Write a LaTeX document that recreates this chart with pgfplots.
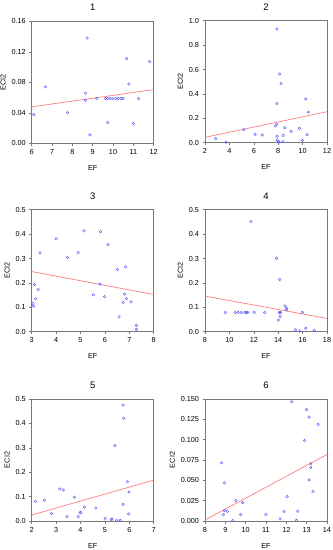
\documentclass[border=0pt]{standalone}
\usepackage{fontspec}
\setmainfont{Liberation Sans}
\usepackage{pgfplots}
\pgfplotsset{compat=1.18}
\definecolor{mblue}{RGB}{95,95,255}
\definecolor{lred}{RGB}{255,125,125}
\definecolor{axgray}{RGB}{120,120,120}
\pgfplotsset{
  panel/.style={
    scale only axis, width=122bp, height=122bp,
    axis line style={axgray, line width=0.6pt},
    tick style={axgray, line width=0.5pt},
    tick align=outside, major tick length=2.5bp,
    xtick pos=bottom, ytick pos=left,
    /pgf/number format/assume math mode=true,
    tick label style={font=\fontsize{7.3}{8}\selectfont},
    label style={font=\fontsize{7.3}{8}\selectfont},
    title style={font=\fontsize{9.5}{10}\selectfont, yshift=1bp},
    xlabel=EF, ylabel=ECI2,
    xlabel style={yshift=-4bp},
    ylabel style={yshift=-1bp},
    clip=false,
  },
  pts/.style={only marks, mark=o, mark size=1.3bp, mark options={draw=mblue, fill=mblue!20, line width=0.45pt}},
  fit/.style={no marks, lred, line width=0.7pt},
}
\begin{document}
\begin{tikzpicture}
\useasboundingbox (0,0) rectangle (333bp,-550bp);
% Panel 1
\begin{axis}[panel, at={(31.7bp,-143.3bp)}, anchor=south west, title={1},
  xmin=6, xmax=12, ymin=0, ymax=0.16, xtick={6,7,...,12}, ytick={0,0.04,0.08,0.12,0.16},
  yticklabel style={/pgf/number format/.cd, fixed, fixed zerofill, precision=2}]
\addplot[pts] coordinates {(6.1,0.0378) (6.67,0.074) (7.76,0.040) (8.73,0.138) (8.65,0.0657) (8.65,0.0565) (8.86,0.011) (9.2,0.0587)
 (9.63,0.0587) (9.73,0.0587) (9.86,0.0587) (9.99,0.0587) (10.13,0.0587) (10.26,0.0587) (10.39,0.0587) (10.49,0.0587)
 (9.74,0.0274) (10.67,0.111) (10.78,0.078) (11.01,0.026) (11.26,0.0587) (11.8,0.107)};
\addplot[fit] coordinates {(6,0.0478) (12,0.0704)};
\end{axis}
% Panel 2
\begin{axis}[panel, at={(205bp,-142.7bp)}, anchor=south west, title={2},
  xmin=2, xmax=12, ymin=0, ymax=1, xtick={2,4,...,12}, ytick={0,0.2,...,1.0},
  yticklabel style={/pgf/number format/.cd, fixed, fixed zerofill, precision=1}]
\addplot[pts] coordinates {(2.87,0.033) (3.72,0.003) (5.19,0.107) (6.11,0.068) (6.69,0.063) (7.91,0.932) (7.89,0.32) (7.75,0.137)
 (7.89,0.153) (7.91,0.052) (7.91,0.022) (8.02,0.011) (8.05,0.005) (8.1,0.563) (8.24,0.484) (8.54,0.123) (8.4,0.06) (8.4,0.008)
 (9.06,0.093) (9.74,0.117) (9.98,0.019) (10.26,0.358) (10.37,0.066) (10.47,0.251)};
\addplot[fit] coordinates {(2,0.044) (12,0.254)};
\end{axis}
% Panel 3
\begin{axis}[panel, at={(31.7bp,-331.7bp)}, anchor=south west, title={3},
  xmin=3, xmax=8, ymin=0, ymax=0.5, xtick={3,4,...,8}, ytick={0,0.1,...,0.5},
  yticklabel style={/pgf/number format/.cd, fixed, fixed zerofill, precision=1}]
\addplot[pts] coordinates {(3.05,0.116) (3.08,0.105) (3.11,0.193) (3.16,0.135) (3.27,0.173) (3.34,0.324) (4.01,0.381) (4.47,0.304)
 (4.9,0.324) (5.14,0.413) (5.53,0.151) (5.82,0.41) (5.79,0.195) (5.99,0.144) (6.12,0.357) (6.52,0.255) (6.58,0.061) (6.75,0.12)
 (6.81,0.154) (6.85,0.266) (6.88,0.136) (7.07,0.123) (7.29,0.026) (7.29,0.0095)};
\addplot[fit] coordinates {(3,0.2466) (8,0.1526)};
\end{axis}
% Panel 4
\begin{axis}[panel, at={(205bp,-331.7bp)}, anchor=south west, title={4},
  xmin=8, xmax=18, ymin=0, ymax=0.5, xtick={8,10,...,18}, ytick={0,0.1,...,0.5},
  yticklabel style={/pgf/number format/.cd, fixed, fixed zerofill, precision=1}]
\addplot[pts] coordinates {(9.66,0.079) (10.48,0.079) (10.72,0.079) (10.97,0.079) (11.27,0.079) (11.38,0.079) (11.49,0.079) (12.03,0.079)
 (12.9,0.079) (11.76,0.451) (13.86,0.301) (14.13,0.214) (14.1,0.079) (14.2,0.079) (14.16,0.063) (14.0,0.048) (14.54,0.106)
 (14.68,0.097) (14.68,0.09) (15.98,0.079) (15.41,0.008) (15.77,0.003) (16.26,0.014) (16.96,0.005)};
\addplot[fit] coordinates {(8,0.146) (18,0.0545)};
\end{axis}
% Panel 5
\begin{axis}[panel, at={(31.7bp,-521bp)}, anchor=south west, title={5},
  xmin=2, xmax=7, ymin=0, ymax=0.5, xtick={2,3,...,7}, ytick={0,0.1,...,0.5},
  yticklabel style={/pgf/number format/.cd, fixed, fixed zerofill, precision=1}]
\addplot[pts] coordinates {(2.15,0.080) (2.52,0.086) (2.81,0.031) (3.15,0.131) (3.29,0.127) (3.44,0.018) (3.75,0.098) (3.9,0.018)
 (3.99,0.035) (4.01,0.035) (4.16,0.057) (4.63,0.053) (5.01,0.011) (5.25,0.005) (5.29,0.008) (5.41,0.309) (5.48,0.003) (5.63,0.003)
 (5.75,0.475) (5.77,0.421) (5.75,0.068) (5.92,0.161) (5.99,0.119) (5.97,0.029)};
\addplot[fit] coordinates {(2,0.0245) (7,0.1676)};
\end{axis}
% Panel 6
\begin{axis}[panel, at={(205bp,-521bp)}, anchor=south west, title={6},
  xmin=8, xmax=14, ymin=0, ymax=0.15, xtick={8,9,...,14}, ytick={0,0.025,...,0.15},
  yticklabel style={/pgf/number format/.cd, fixed, fixed zerofill, precision=3}]
\addplot[pts] coordinates {(8.82,0.0715) (8.9,0.0078) (8.95,0.0469) (8.95,0.0127) (9.1,0.0119) (9.37,0.0004) (9.52,0.0251) (9.75,0.0078)
 (9.85,0.0226) (10.99,0.0082) (11.69,0.0029) (11.89,0.0119) (12.04,0.03) (12.27,0.1467) (12.5,0.0008) (12.56,0.0119) (12.89,0.099)
 (13.0,0.1369) (13.12,0.1278) (13.12,0.0506) (13.2,0.0703) (13.2,0.0658) (13.31,0.0362) (13.56,0.1188)};
\addplot[fit] coordinates {(8,0.0012) (14,0.0818)};
\end{axis}
\end{tikzpicture}
\end{document}
